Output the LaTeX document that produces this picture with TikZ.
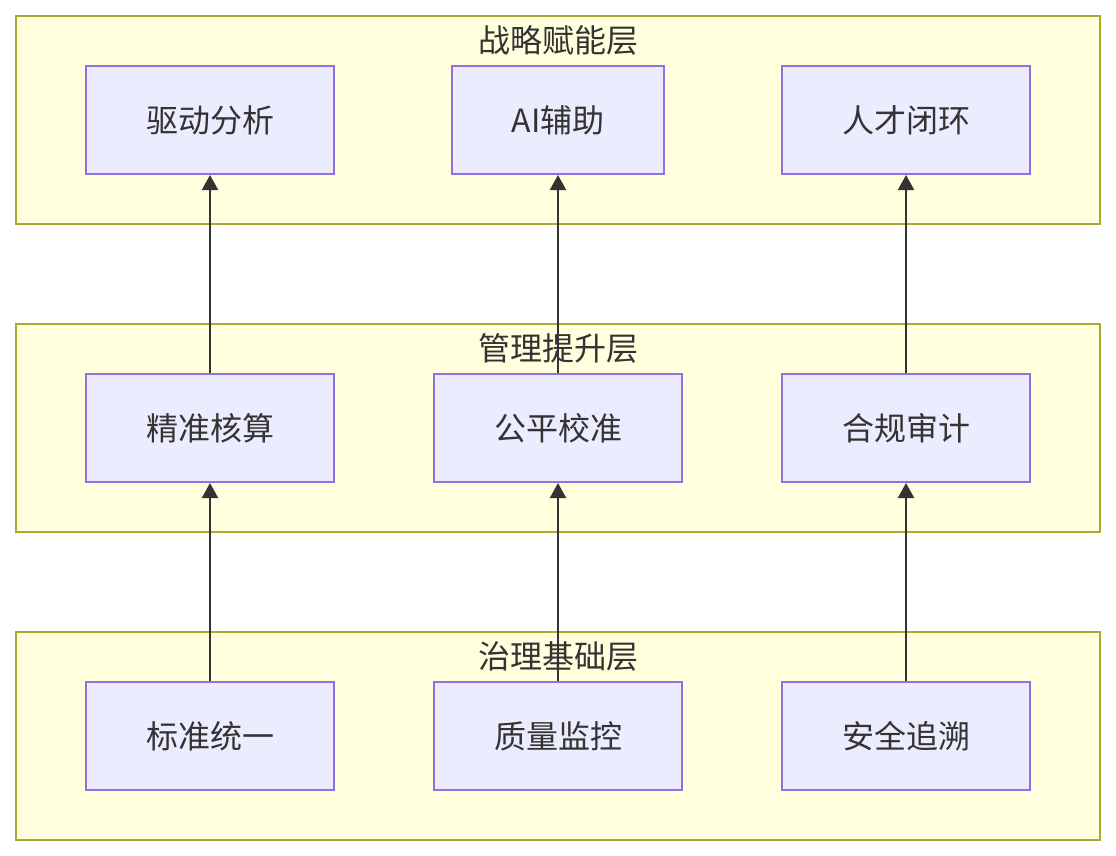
\documentclass[tikz,border=0pt]{standalone}
\usepackage{fontspec}
\setmainfont{Noto Sans CJK SC}
\usetikzlibrary{arrows.meta}
\definecolor{sgfill}{HTML}{FFFFDE}
\definecolor{sgline}{HTML}{AAAA33}
\definecolor{ndfill}{HTML}{ECECFF}
\definecolor{ndline}{HTML}{9370DB}
\definecolor{txt}{HTML}{333333}
\tikzset{
  layer/.style={draw=sgline, fill=sgfill, line width=2pt, minimum width=1084pt, minimum height=208pt, inner sep=0pt},
  ltitle/.style={text=txt, font=\fontsize{32}{36}\selectfont, inner sep=0pt},
  box/.style={draw=ndline, fill=ndfill, line width=2pt, minimum height=108pt, inner sep=0pt, text=txt, font=\fontsize{32}{36}\selectfont},
  link/.style={draw=txt, line width=2pt, -{Triangle[width=16pt,length=15pt]}},
}
\begin{document}
\begin{tikzpicture}[x=1pt,y=-1pt]
\useasboundingbox (0,0) rectangle (1116,856);
\fill[white] (0,0) rectangle (1116,856);
% layers
\node[layer] (L1) at (558,120) {};
\node[layer] (L2) at (558,428) {};
\node[layer] (L3) at (558,736) {};
\node[ltitle] (T1) at (558,40) {战略赋能层};
\node[ltitle] (T2) at (558,348) {管理提升层};
\node[ltitle] (T3) at (558,656) {治理基础层};
% nodes
\node[box, minimum width=248pt] (a1) at (210,120) {驱动分析};
\node[box, minimum width=212pt] (a2) at (558,120) {AI辅助};
\node[box, minimum width=248pt] (a3) at (906,120) {人才闭环};
\node[box, minimum width=248pt] (b1) at (210,428) {精准核算};
\node[box, minimum width=248pt] (b2) at (558,428) {公平校准};
\node[box, minimum width=248pt] (b3) at (906,428) {合规审计};
\node[box, minimum width=248pt] (c1) at (210,736) {标准统一};
\node[box, minimum width=248pt] (c2) at (558,736) {质量监控};
\node[box, minimum width=248pt] (c3) at (906,736) {安全追溯};
% links
\draw[link] (c1.north) -- (b1.south);
\draw[link] (c2.north) -- (b2.south);
\draw[link] (c3.north) -- (b3.south);
\draw[link] (b1.north) -- (a1.south);
\draw[link] (b2.north) -- (a2.south);
\draw[link] (b3.north) -- (a3.south);
\end{tikzpicture}
\end{document}
